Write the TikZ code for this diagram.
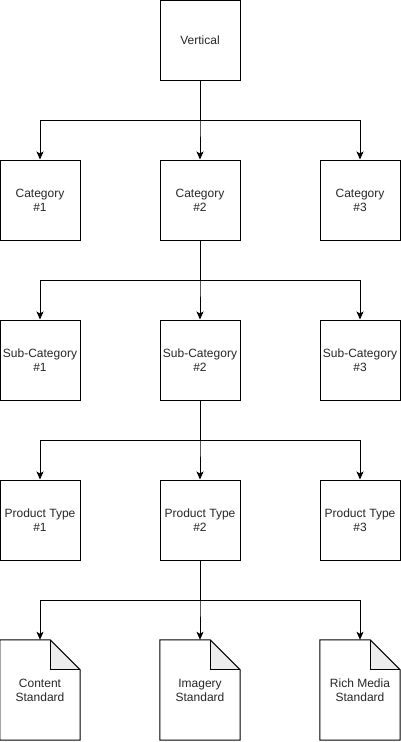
\documentclass[tikz,border=0pt]{standalone}
\usepackage{fontspec}
\setmainfont{Liberation Sans}
\usetikzlibrary{arrows.meta,calc}
\begin{document}
\begin{tikzpicture}[x=1pt,y=-1pt,
  box/.style={draw=black,line width=1pt,minimum width=80pt,minimum height=80pt,inner sep=0pt,align=center,font=\fontsize{12}{14}\selectfont,text=black!85},
  docbox/.style={minimum width=80pt,minimum height=100pt,inner sep=0pt,align=center,font=\fontsize{12}{14}\selectfont,text=black!85},
  arr/.style={draw=black,line width=1pt,-{Stealth[length=8pt,width=7pt,inset=2pt]}}]
\useasboundingbox (0,0) rectangle (401,742);
% nodes
\node[box] (v) at (200,40) {Vertical};
\node[box] (c1) at (40,200) {Category\\\#1};
\node[box] (c2) at (200,200) {Category\\\#2};
\node[box] (c3) at (360,200) {Category\\\#3};
\node[box] (s1) at (40,360) {Sub-Category\\\#1};
\node[box] (s2) at (200,360) {Sub-Category\\\#2};
\node[box] (s3) at (360,360) {Sub-Category\\\#3};
\node[box] (p1) at (40,520) {Product Type\\\#1};
\node[box] (p2) at (200,520) {Product Type\\\#2};
\node[box] (p3) at (360,520) {Product Type\\\#3};
\node[docbox] (d1) at (40,690) {Content\\Standard};
\node[docbox] (d2) at (200,690) {Imagery\\Standard};
\node[docbox] (d3) at (360,690) {Rich Media\\Standard};
% document outlines
\foreach \d in {d1,d2,d3}{
  \fill[black!7] ($(\d.north east)+(-30,0)$) -- ($(\d.north east)+(0,30)$) -- ($(\d.north east)+(-30,30)$) -- cycle;
  \draw[line width=1pt,line join=miter] (\d.north west) -- ($(\d.north east)+(-30,0)$) -- ($(\d.north east)+(0,30)$) -- (\d.south east) -- (\d.south west) -- cycle;
  \draw[line width=1pt] ($(\d.north east)+(-30,0)$) -- ($(\d.north east)+(-30,30)$) -- ($(\d.north east)+(0,30)$);
}
% junctions
\coordinate (j1) at (200,120);
\coordinate (j2) at (200,280);
\coordinate (j3) at (200,440);
\coordinate (j4) at (200,600);
% connectors
\foreach \t in {c1,c2,c3}{\draw[arr] (v.south) -- (j1) -| (\t.north);}
\foreach \t in {s1,s2,s3}{\draw[arr] (c2.south) -- (j2) -| (\t.north);}
\foreach \t in {p1,p2,p3}{\draw[arr] (s2.south) -- (j3) -| (\t.north);}
\foreach \t in {d1,d2,d3}{\draw[arr] (p2.south) -- (j4) -| (\t.north);}
\end{tikzpicture}
\end{document}
